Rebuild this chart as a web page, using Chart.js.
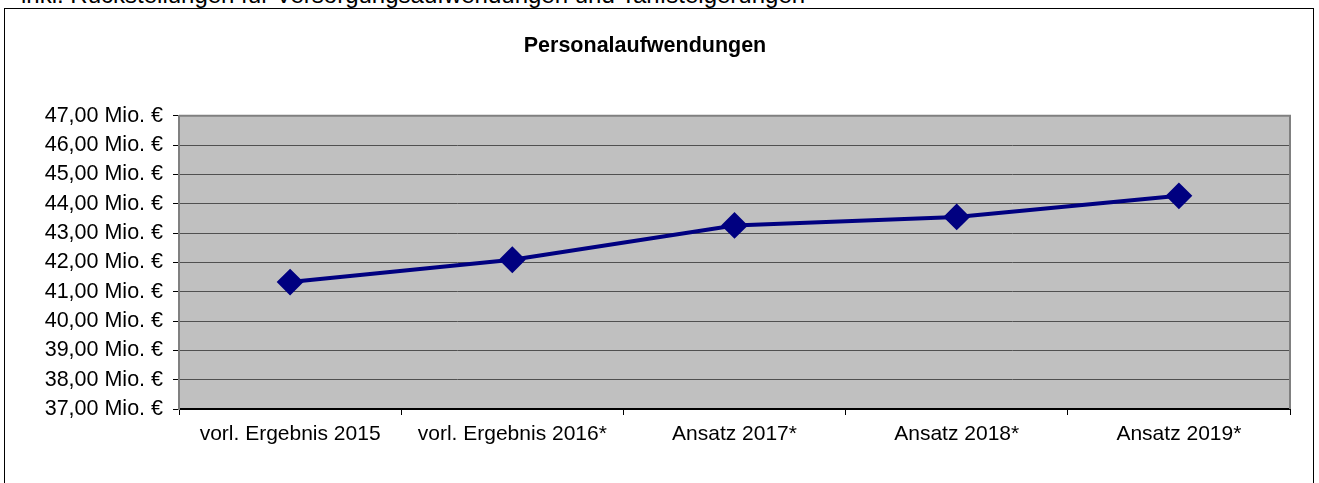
<!DOCTYPE html>
<html>
<head>
<meta charset="utf-8">
<script src="https://cdn.jsdelivr.net/npm/chart.js@4/dist/chart.umd.min.js"></script>
<style>
    html, body { margin: 0; padding: 0; background: #fff; overflow: hidden; }
    body { width: 1319px; height: 483px; position: relative; font-family: "Liberation Sans", Arial, sans-serif; }
    #note { position: absolute; left: 21px; top: -17px; font-size: 24px; line-height: 24px; color: #000; white-space: nowrap; }
    #frame { position: absolute; left: 4px; top: 8px; width: 1308px; height: 490px; border: 1px solid #000; }
    #wrap { position: absolute; left: 0; top: 0; width: 1319px; height: 483px; }
</style>
</head>
<body>
<div id="note">inkl. Rückstellungen für Versorgungsaufwendungen und Tarifsteigerungen</div>
<div id="frame"></div>
<div id="wrap"><canvas id="myChart"></canvas></div>
<script>
const categories = ["vorl. Ergebnis 2015", "vorl. Ergebnis 2016*", "Ansatz 2017*", "Ansatz 2018*", "Ansatz 2019*"];
const personal = [41.33, 42.09, 43.26, 43.55, 44.27];
const yMin = 37;
const yMax = 47;

const plotBox = {
    id: "plotBox",
    beforeDraw(chart) {
        const { ctx, chartArea: a } = chart;
        ctx.save();
        ctx.fillStyle = "#c0c0c0";
        ctx.fillRect(a.left, a.top, a.right - a.left, a.bottom - a.top);
        ctx.restore();
    },
    beforeDatasetsDraw(chart) {
        const { ctx, chartArea: a } = chart;
        ctx.save();
        ctx.strokeStyle = "#808080";
        ctx.lineWidth = 2;
        ctx.beginPath();
        ctx.moveTo(a.left, a.top);
        ctx.lineTo(a.right, a.top);
        ctx.lineTo(a.right, a.bottom);
        ctx.stroke();
        ctx.restore();
    },
};

Chart.defaults.font.family = '"Liberation Sans", Arial, sans-serif';
Chart.defaults.color = "#000";

const myChart = new Chart(document.getElementById("myChart"), {
    type: "line",
    data: {
        labels: categories,
        datasets: [
            {
                label: "Personalaufwendungen",
                data: personal,
                borderColor: "#000080",
                borderWidth: 4,
                tension: 0,
                pointStyle: "rectRot",
                pointRadius: 12,
                pointHoverRadius: 12,
                pointBackgroundColor: "#000080",
                pointBorderColor: "#000080",
                pointBorderWidth: 2,
            },
        ],
    },
    options: {
        responsive: true,
        maintainAspectRatio: false,
        animation: false,
        events: [],
        layout: {
            padding: { left: 0, right: 29, top: 0, bottom: 0 },
        },
        plugins: {
            legend: { display: false },
            tooltip: { enabled: false },
            title: {
                display: true,
                text: "Personalaufwendungen",
                font: { size: 21.5, weight: "bold" },
                color: "#000",
                padding: { top: 33, bottom: 57 },
            },
        },
        scales: {
            x: {
                offset: true,
                grid: {
                    offset: true,
                    drawOnChartArea: false,
                    drawTicks: true,
                    tickLength: 6,
                    color: "#000",
                },
                border: { color: "#000", width: 2 },
                ticks: {
                    font: { size: 21 },
                    padding: 7,
                    maxRotation: 0,
                    autoSkip: false,
                },
                afterFit(scale) {
                    scale.height = 74;
                },
            },
            y: {
                min: yMin,
                max: yMax,
                grid: {
                    color: "#505050",
                    lineWidth: 1,
                    tickLength: 6,
                    tickColor: "#000",
                },
                border: { color: "#808080", width: 2 },
                ticks: {
                    stepSize: 1,
                    autoSkip: false,
                    font: { size: 21.5, lineHeight: 1 },
                    padding: 10,
                    callback: (v) => v.toFixed(2).replace(".", ",") + " Mio. €",
                },
                afterFit(scale) {
                    scale.width = 179;
                },
            },
        },
    },
    plugins: [plotBox],
});
</script>
</body>
</html>
